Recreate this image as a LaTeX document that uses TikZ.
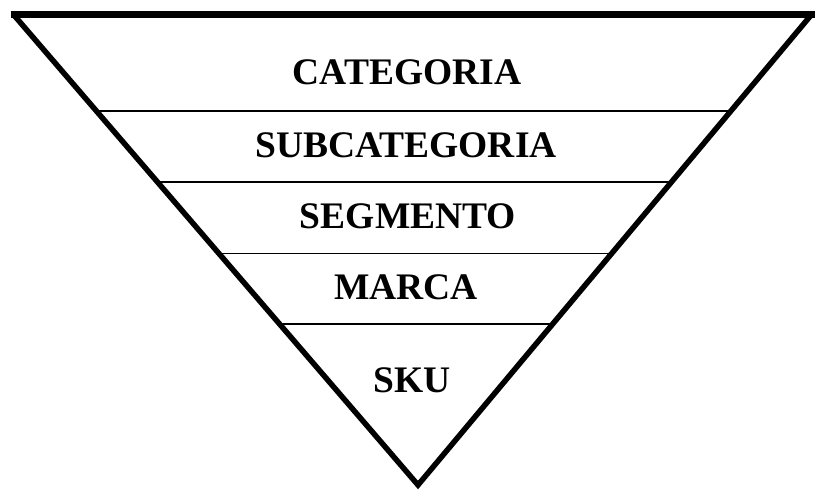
\documentclass[tikz,border=0pt]{standalone}
\usepackage{fontspec}
\setmainfont{Liberation Serif}
\usetikzlibrary{calc}
\tikzset{
  side/.style={line width=5.5pt, line join=miter},
  topedge/.style={line width=7pt},
  divider/.style={line width=1.8pt},
  level/.style={font=\fontsize{37.5}{40}\selectfont\bfseries, inner sep=0pt, anchor=center}
}
\begin{document}
\begin{tikzpicture}[x=1pt,y=-1pt]
\useasboundingbox (0,0) rectangle (816,490);
\coordinate (tl) at (13,14);
\coordinate (tr) at (812,14);
\coordinate (ap) at (418,485);
\draw[side] (tl) -- (ap) -- (tr);
\draw[topedge] ($(tl)+(-2,0)$) -- ($(tr)+(3,0)$);
\foreach \n/\t in {a/0.2055, b/0.3575, c/0.5085, d/0.6585}{
  \coordinate (l\n) at ($(tl)!\t!(ap)$);
  \coordinate (r\n) at ($(tr)!\t!(ap)$);
  \draw[divider] (l\n) -- (r\n);
}
\node[level] (cat) at (407,72) {CATEGORIA};
\node[level] (sub) at (406,145) {SUBCATEGORIA};
\node[level] (seg) at (408,216) {SEGMENTO};
\node[level] (mar) at (406,287) {MARCA};
\node[level] (sku) at (412,380) {SKU};
\end{tikzpicture}
\end{document}
